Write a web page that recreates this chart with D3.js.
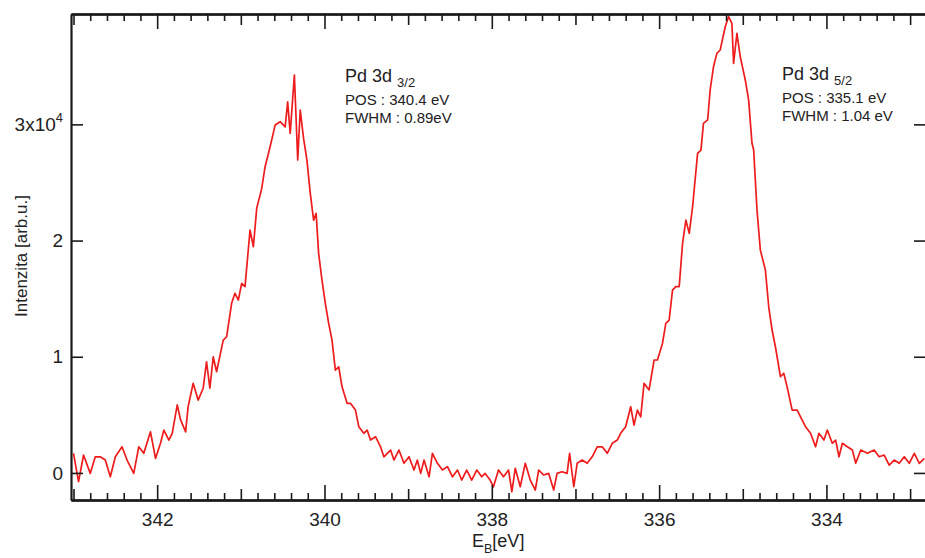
<!DOCTYPE html>
<html><head><meta charset="utf-8">
<script src="https://cdn.jsdelivr.net/npm/d3@7"></script>
<style>
body{margin:0;background:#fff}
svg{display:block;font-family:Arial,"Liberation Sans",Helvetica,sans-serif}
</style>
</head><body><svg id="c" width="925" height="558"></svg>
<script>
// Binding energy (eV)
const energy = [
343.00,342.94,342.88,342.80,342.74,342.68,342.62,342.56,342.50,342.42,
342.36,342.28,342.22,342.16,342.08,342.02,341.96,341.92,341.86,341.82,
341.76,341.72,341.66,341.63,341.57,341.51,341.45,341.41,341.37,341.33,
341.29,341.21,341.17,341.11,341.07,341.03,340.99,340.95,340.89,340.85,
340.81,340.75,340.71,340.65,340.59,340.53,340.47,340.44,340.41,340.36,
340.32,340.29,340.25,340.21,340.17,340.13,340.10,340.07,340.03,339.99,
339.95,339.91,339.87,339.83,339.79,339.73,339.69,339.63,339.59,339.53,
339.49,339.45,339.39,339.33,339.29,339.21,339.17,339.11,339.05,338.99,
338.93,338.89,338.85,338.81,338.75,338.71,338.65,338.59,338.53,338.47,
338.41,338.36,338.30,338.24,338.18,338.12,338.08,338.02,337.98,337.92,
337.86,337.80,337.76,337.72,337.66,337.60,337.54,337.48,337.44,337.38,
337.32,337.26,337.22,337.16,337.10,337.07,337.02,336.98,336.92,336.86,
336.80,336.74,336.68,336.62,336.56,336.50,336.46,336.40,336.34,336.30,
336.26,336.22,336.18,336.12,336.06,336.02,335.96,335.92,335.88,335.84,
335.80,335.76,335.72,335.68,335.64,335.60,335.54,335.50,335.47,335.42,
335.39,335.35,335.31,335.27,335.21,335.17,335.13,335.11,335.07,335.03,
334.97,334.93,334.89,334.87,334.83,334.79,334.73,334.69,334.65,334.61,
334.55,334.51,334.47,334.41,334.35,334.31,334.25,334.19,334.13,334.09,
334.03,333.99,333.93,333.89,333.85,333.81,333.75,333.69,333.65,333.59,
333.51,333.43,333.37,333.31,333.25,333.19,333.13,333.07,333.01,332.95,
332.89,332.83
];
// Intensity (arb. u.)
const intensity = [
1690,-750,1540,-40,1390,1390,1110,-330,1390,2250,
1110,-40,2250,1690,3540,1250,2550,3690,2830,3410,
5850,4560,3540,5700,7710,6270,7290,9570,7290,10000,
8710,11430,11720,14600,15460,14880,16320,16030,20910,19470,
22780,24490,26360,28070,29940,30230,29790,31940,29220,34250,
26930,31230,28800,26930,24060,21760,22340,18900,16600,14600,
12870,11430,8850,9140,7410,5990,5990,5410,3980,3410,
3690,2830,3120,2250,1390,1970,1110,1970,830,1390,
250,1110,-40,1110,-330,1690,830,250,540,-330,
250,-610,250,-610,250,-330,-40,-610,-1190,250,
-330,250,-1620,400,-1190,830,-610,-1470,250,-180,
-40,-1470,-40,100,-40,1690,-1190,830,1110,830,
1390,2250,2250,1690,2550,2830,3410,3980,5700,4120,
5410,4830,7710,7140,9720,9720,11150,12870,13160,15740,
16030,16030,19760,21760,20620,22910,27510,27790,30090,30380,
32960,34960,36110,36400,38400,39270,38690,35250,37840,35820,
33810,32090,28370,27790,22630,19180,17470,14300,12300,10860,
8280,8580,7410,5410,5410,4830,3980,3410,2250,3410,
2830,3690,2550,2830,1390,2550,2250,1970,830,1970,
1690,1970,1390,1540,680,1110,830,1390,830,1690,
830,1250
];
const xLabelTicks = [342, 340, 338, 336, 334];
const xOddTicks = [343, 341, 339, 337, 335, 333];
const yTickValues = [0, 10000, 20000, 30000];
const yTickLabels = ["0", "1", "2", "3x10"];
const peakNames = ["Pd 3d", "Pd 3d"];
const peakSubs = ["3/2", "5/2"];
const peakPos = ["POS : 340.4 eV", "POS : 335.1 eV"];
const peakFwhm = ["FWHM : 0.89eV", "FWHM : 1.04 eV"];

const svg = d3.select("#c");
const L = 71, R = 926, T = 14, B = 500;
const x = d3.scaleLinear().domain([343.03, 332.81]).range([L, R]);
const y = d3.scaleLinear().domain([-2330, 39500]).range([B, T]);
const axisColor = "#1a1a1a";
const labelColor = "#222";

const minorTicks = d3.range(0, 51).map(i => +(333 + i * 0.2).toFixed(1))
  .filter(v => Math.abs(v - Math.round(v)) > 1e-6);

svg.append("defs").append("clipPath").attr("id", "clip")
  .append("rect").attr("x", L).attr("y", T).attr("width", R - L).attr("height", B - T);

// data line
const line = d3.line().x((d, i) => x(energy[i])).y(d => y(d));
svg.append("path").datum(intensity)
  .attr("clip-path", "url(#clip)")
  .attr("d", line)
  .attr("fill", "none")
  .attr("stroke", "#ee1c1c")
  .attr("stroke-width", 1.7)
  .attr("stroke-linejoin", "round");

function styleAxis(g, width) {
  g.selectAll(".domain").attr("stroke", axisColor).attr("stroke-width", width || 2);
  g.selectAll(".tick line").attr("stroke", axisColor).attr("stroke-width", 1.6);
}

// x axes (bottom & top) with minor, odd, and labelled ticks
[["bottom", B, d3.axisBottom], ["top", T, d3.axisTop]].forEach(([side, pos, fn]) => {
  const gMinor = svg.append("g").attr("transform", `translate(0,${pos})`)
    .call(fn(x).tickValues(minorTicks).tickSize(-7).tickSizeOuter(0).tickFormat(""));
  styleAxis(gMinor);
  const gOdd = svg.append("g").attr("transform", `translate(0,${pos})`)
    .call(fn(x).tickValues(xOddTicks).tickSize(-11).tickSizeOuter(0).tickFormat(""));
  styleAxis(gOdd);
  const gMaj = svg.append("g").attr("transform", `translate(0,${pos})`)
    .call(fn(x).tickValues(xLabelTicks).tickSize(-15).tickSizeOuter(0)
      .tickPadding(12.5).tickFormat(side === "bottom" ? d3.format("d") : ""));
  styleAxis(gMaj);
  gMaj.selectAll("text").attr("font-size", 19).attr("fill", labelColor)
    .attr("font-family", "Arial, 'Liberation Sans', sans-serif");
});

// y axes (left & right)
const gLeft = svg.append("g").attr("transform", `translate(${L},0)`)
  .call(d3.axisLeft(y).tickValues(yTickValues).tickSize(-12).tickSizeOuter(0)
    .tickPadding(8).tickFormat((d, i) => yTickLabels[i]));
styleAxis(gLeft, 2.2);
gLeft.selectAll("text").attr("font-size", 19).attr("fill", labelColor)
  .attr("font-family", "Arial, 'Liberation Sans', sans-serif");
gLeft.selectAll(".tick").filter(d => d === 30000).select("text")
  .attr("dx", "-8px")
  .append("tspan").attr("font-size", 13).attr("dy", "-9").text("4");
gLeft.selectAll(".tick").filter(d => d === 30000).select("text")
  .attr("x", -0);

const gRight = svg.append("g").attr("transform", `translate(${R},0)`)
  .call(d3.axisRight(y).tickValues(yTickValues).tickSize(-12).tickSizeOuter(0).tickFormat(""));
styleAxis(gRight);

// axis titles
svg.append("text")
  .attr("transform", "translate(27,256) rotate(-90)")
  .attr("text-anchor", "middle")
  .attr("font-size", 17).attr("fill", labelColor)
  .text("Intenzita [arb.u.]");

const xt = svg.append("text").attr("x", 472).attr("y", 547)
  .attr("font-size", 18).attr("fill", labelColor);
xt.append("tspan").text("E");
xt.append("tspan").attr("font-size", 12.5).attr("dy", 6).text("B");
xt.append("tspan").attr("dy", -6).text("[eV]");

// peak annotations
const annX = [345, 782];
const annY = [82, 80];
peakNames.forEach((nm, i) => {
  const g = svg.append("g").attr("fill", labelColor);
  const t = g.append("text").attr("x", annX[i]).attr("y", annY[i]).attr("font-size", 18);
  t.append("tspan").text(nm + " ");
  t.append("tspan").attr("font-size", 13).attr("dy", 5).text(peakSubs[i]);
  g.append("text").attr("x", annX[i]).attr("y", annY[i] + 23).attr("font-size", 15).text(peakPos[i]);
  g.append("text").attr("x", annX[i]).attr("y", annY[i] + 40.5).attr("font-size", 15).text(peakFwhm[i]);
});
</script>
</body></html>
